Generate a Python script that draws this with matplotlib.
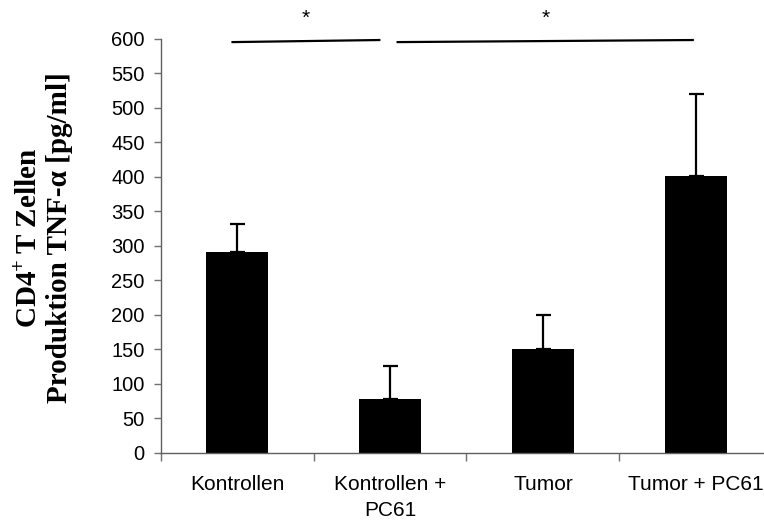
import numpy as np
import matplotlib
matplotlib.use("Agg")
import matplotlib.pyplot as plt

# --- data ---
groups = ["Kontrollen", "Kontrollen +\nPC61", "Tumor", "Tumor + PC61"]
tnf_mean = [291, 77, 150, 401]
tnf_err = [40, 48, 50, 119]
yticks = list(range(0, 601, 50))
# significance brackets: (group a, group b, label)
sig_pairs = [(0, 1, "*"), (1, 3, "*")]

plt.rcParams["font.family"] = ["Liberation Sans", "DejaVu Sans"]
plt.rcParams["mathtext.fontset"] = "custom"
plt.rcParams["mathtext.rm"] = "Liberation Serif:bold"
plt.rcParams["mathtext.bf"] = "Liberation Serif:bold"

fig = plt.figure(figsize=(7.64, 5.22), dpi=100)
ax = fig.add_axes([0.2103, 0.1331, 0.8005, 0.7922])

x = np.arange(len(groups))
ax.bar(x, tnf_mean, width=0.405, color="black",
       yerr=[np.zeros(len(tnf_err)), tnf_err],
       error_kw=dict(ecolor="black", elinewidth=1.6, capsize=5.4, capthick=1.6))

ax.set_xlim(-0.5, len(groups) - 0.5)
ax.set_ylim(0, 600)
ax.set_yticks(yticks)
ax.tick_params(axis="y", labelsize=14.5, length=5, width=1, color="#707070", pad=6.5)

ax.set_xticks(x)
ax.set_xticklabels(groups, fontsize=15, linespacing=1.5)
ax.set_xticks(np.arange(len(groups) + 1) - 0.5, minor=True)
ax.tick_params(axis="x", which="major", length=0, pad=16)
ax.tick_params(axis="x", which="minor", length=6, width=1, color="#707070")

for s in ["top", "right"]:
    ax.spines[s].set_visible(False)
for s in ["left", "bottom"]:
    ax.spines[s].set_color("#606060")
    ax.spines[s].set_linewidth(1)

# significance lines
offsets = {(0, 1): (-0.03, -0.07), (1, 3): (0.05, -0.02)}
for a, b, lab in sig_pairs:
    da, db = offsets[(a, b)]
    x0, x1 = a + da, b + db
    ax.plot([x0, x1], [595.5, 598.5], color="black", lw=1.6, clip_on=False)
    ax.text((x0 + x1) / 2, 630, lab, ha="center", va="center", fontsize=15,
            clip_on=False)

fig.text(0.058, 0.544, "CD4$^{+}\\,$T Zellen\nProduktion TNF-α [pg/ml]",
         rotation=90, ha="center", va="center", multialignment="center",
         fontsize=21, fontweight="bold", linespacing=1.15,
         family=["Liberation Serif", "DejaVu Serif"])

fig.savefig("out.png", dpi=100)
